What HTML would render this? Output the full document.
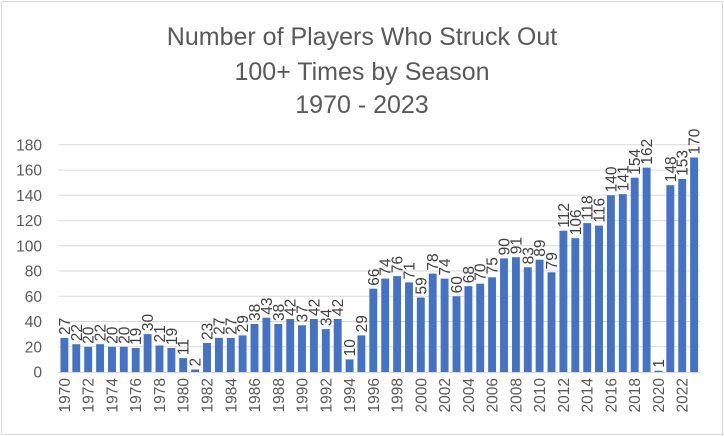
<!DOCTYPE html>
<html><head><meta charset="utf-8"><style>
html,body{margin:0;padding:0;background:#fff}
svg{display:block}
text{font-family:"Liberation Sans",sans-serif;fill:#404040}
.v{font-size:15.5px}
.y{font-size:15.5px;fill:#595959}
.t{font-size:25px;fill:#595959}
rect.b{fill:#4472C4}
</style></head><body>
<svg width="724" height="436" viewBox="0 0 724 436">
<rect x="1.5" y="1.5" width="721" height="433" fill="#fff" stroke="#d9d9d9"/>
<text class="t" x="362" y="45" text-anchor="middle">Number of Players Who Struck Out</text>
<text class="t" x="362" y="80" text-anchor="middle">100+ Times by Season</text>
<text class="t" x="362" y="113" text-anchor="middle">1970 - 2023</text>
<g stroke="#d9d9d9" stroke-width="1">
<line x1="58.5" x2="700" y1="346.8" y2="346.8"/><line x1="58.5" x2="700" y1="321.5" y2="321.5"/>
<line x1="58.5" x2="700" y1="296.3" y2="296.3"/><line x1="58.5" x2="700" y1="271" y2="271"/>
<line x1="58.5" x2="700" y1="245.8" y2="245.8"/><line x1="58.5" x2="700" y1="220.6" y2="220.6"/>
<line x1="58.5" x2="700" y1="195.3" y2="195.3"/><line x1="58.5" x2="700" y1="170.1" y2="170.1"/>
<line x1="58.5" x2="700" y1="144.8" y2="144.8"/>
</g>
<g text-anchor="end">
<text class="y" x="42" y="377.5">0</text><text class="y" x="42" y="352.3">20</text><text class="y" x="42" y="327">40</text>
<text class="y" x="42" y="301.8">60</text><text class="y" x="42" y="276.5">80</text><text class="y" x="42" y="251.3">100</text>
<text class="y" x="42" y="226.1">120</text><text class="y" x="42" y="200.8">140</text><text class="y" x="42" y="175.6">160</text>
<text class="y" x="42" y="150.3">180</text>
</g>
<g>
<g transform="translate(64.4,372)"><rect class="b" x="-3.95" y="-34.1" width="7.9" height="34.1"/><text class="v" transform="rotate(-90)" x="37" y="5.5">27</text><text class="y" transform="rotate(-90)" x="-6" y="5.5" text-anchor="end">1970</text></g>
<g transform="translate(76.3,372)"><rect class="b" x="-3.95" y="-27.8" width="7.9" height="27.8"/><text class="v" transform="rotate(-90)" x="30.8" y="5.5">22</text></g>
<g transform="translate(88.2,372)"><rect class="b" x="-3.95" y="-25.2" width="7.9" height="25.2"/><text class="v" transform="rotate(-90)" x="28.2" y="5.5">20</text><text class="y" transform="rotate(-90)" x="-6" y="5.5" text-anchor="end">1972</text></g>
<g transform="translate(100.1,372)"><rect class="b" x="-3.95" y="-27.8" width="7.9" height="27.8"/><text class="v" transform="rotate(-90)" x="30.8" y="5.5">22</text></g>
<g transform="translate(112,372)"><rect class="b" x="-3.95" y="-25.2" width="7.9" height="25.2"/><text class="v" transform="rotate(-90)" x="28.2" y="5.5">20</text><text class="y" transform="rotate(-90)" x="-6" y="5.5" text-anchor="end">1974</text></g>
<g transform="translate(123.8,372)"><rect class="b" x="-3.95" y="-25.2" width="7.9" height="25.2"/><text class="v" transform="rotate(-90)" x="28.2" y="5.5">20</text></g>
<g transform="translate(135.7,372)"><rect class="b" x="-3.95" y="-24" width="7.9" height="24"/><text class="v" transform="rotate(-90)" x="27" y="5.5">19</text><text class="y" transform="rotate(-90)" x="-6" y="5.5" text-anchor="end">1976</text></g>
<g transform="translate(147.6,372)"><rect class="b" x="-3.95" y="-37.9" width="7.9" height="37.9"/><text class="v" transform="rotate(-90)" x="40.9" y="5.5">30</text></g>
<g transform="translate(159.5,372)"><rect class="b" x="-3.95" y="-26.5" width="7.9" height="26.5"/><text class="v" transform="rotate(-90)" x="29.5" y="5.5">21</text><text class="y" transform="rotate(-90)" x="-6" y="5.5" text-anchor="end">1978</text></g>
<g transform="translate(171.4,372)"><rect class="b" x="-3.95" y="-24" width="7.9" height="24"/><text class="v" transform="rotate(-90)" x="27" y="5.5">19</text></g>
<g transform="translate(183.2,372)"><rect class="b" x="-3.95" y="-13.9" width="7.9" height="13.9"/><text class="v" transform="rotate(-90)" x="16.9" y="5.5">11</text><text class="y" transform="rotate(-90)" x="-6" y="5.5" text-anchor="end">1980</text></g>
<g transform="translate(195.1,372)"><rect class="b" x="-3.95" y="-2.5" width="7.9" height="2.5"/><text class="v" transform="rotate(-90)" x="5.5" y="5.5">2</text></g>
<g transform="translate(207,372)"><rect class="b" x="-3.95" y="-29" width="7.9" height="29"/><text class="v" transform="rotate(-90)" x="32" y="5.5">23</text><text class="y" transform="rotate(-90)" x="-6" y="5.5" text-anchor="end">1982</text></g>
<g transform="translate(218.9,372)"><rect class="b" x="-3.95" y="-34.1" width="7.9" height="34.1"/><text class="v" transform="rotate(-90)" x="37.1" y="5.5">27</text></g>
<g transform="translate(230.8,372)"><rect class="b" x="-3.95" y="-34.1" width="7.9" height="34.1"/><text class="v" transform="rotate(-90)" x="37.1" y="5.5">27</text><text class="y" transform="rotate(-90)" x="-6" y="5.5" text-anchor="end">1984</text></g>
<g transform="translate(242.6,372)"><rect class="b" x="-3.95" y="-36.6" width="7.9" height="36.6"/><text class="v" transform="rotate(-90)" x="39.6" y="5.5">29</text></g>
<g transform="translate(254.5,372)"><rect class="b" x="-3.95" y="-48" width="7.9" height="48"/><text class="v" transform="rotate(-90)" x="51" y="5.5">38</text><text class="y" transform="rotate(-90)" x="-6" y="5.5" text-anchor="end">1986</text></g>
<g transform="translate(266.4,372)"><rect class="b" x="-3.95" y="-54.3" width="7.9" height="54.3"/><text class="v" transform="rotate(-90)" x="57.3" y="5.5">43</text></g>
<g transform="translate(278.3,372)"><rect class="b" x="-3.95" y="-48" width="7.9" height="48"/><text class="v" transform="rotate(-90)" x="51" y="5.5">38</text><text class="y" transform="rotate(-90)" x="-6" y="5.5" text-anchor="end">1988</text></g>
<g transform="translate(290.2,372)"><rect class="b" x="-3.95" y="-53" width="7.9" height="53"/><text class="v" transform="rotate(-90)" x="56" y="5.5">42</text></g>
<g transform="translate(302,372)"><rect class="b" x="-3.95" y="-46.7" width="7.9" height="46.7"/><text class="v" transform="rotate(-90)" x="49.7" y="5.5">37</text><text class="y" transform="rotate(-90)" x="-6" y="5.5" text-anchor="end">1990</text></g>
<g transform="translate(313.9,372)"><rect class="b" x="-3.95" y="-53" width="7.9" height="53"/><text class="v" transform="rotate(-90)" x="56" y="5.5">42</text></g>
<g transform="translate(325.8,372)"><rect class="b" x="-3.95" y="-42.9" width="7.9" height="42.9"/><text class="v" transform="rotate(-90)" x="45.9" y="5.5">34</text><text class="y" transform="rotate(-90)" x="-6" y="5.5" text-anchor="end">1992</text></g>
<g transform="translate(337.7,372)"><rect class="b" x="-3.95" y="-53" width="7.9" height="53"/><text class="v" transform="rotate(-90)" x="56" y="5.5">42</text></g>
<g transform="translate(349.6,372)"><rect class="b" x="-3.95" y="-12.6" width="7.9" height="12.6"/><text class="v" transform="rotate(-90)" x="15.6" y="5.5">10</text><text class="y" transform="rotate(-90)" x="-6" y="5.5" text-anchor="end">1994</text></g>
<g transform="translate(361.4,372)"><rect class="b" x="-3.95" y="-36.6" width="7.9" height="36.6"/><text class="v" transform="rotate(-90)" x="39.6" y="5.5">29</text></g>
<g transform="translate(373.3,372)"><rect class="b" x="-3.95" y="-83.3" width="7.9" height="83.3"/><text class="v" transform="rotate(-90)" x="86.3" y="5.5">66</text><text class="y" transform="rotate(-90)" x="-6" y="5.5" text-anchor="end">1996</text></g>
<g transform="translate(385.2,372)"><rect class="b" x="-3.95" y="-93.4" width="7.9" height="93.4"/><text class="v" transform="rotate(-90)" x="96.4" y="5.5">74</text></g>
<g transform="translate(397.1,372)"><rect class="b" x="-3.95" y="-95.9" width="7.9" height="95.9"/><text class="v" transform="rotate(-90)" x="98.9" y="5.5">76</text><text class="y" transform="rotate(-90)" x="-6" y="5.5" text-anchor="end">1998</text></g>
<g transform="translate(409,372)"><rect class="b" x="-3.95" y="-89.6" width="7.9" height="89.6"/><text class="v" transform="rotate(-90)" x="92.6" y="5.5">71</text></g>
<g transform="translate(420.8,372)"><rect class="b" x="-3.95" y="-74.5" width="7.9" height="74.5"/><text class="v" transform="rotate(-90)" x="77.5" y="5.5">59</text><text class="y" transform="rotate(-90)" x="-6" y="5.5" text-anchor="end">2000</text></g>
<g transform="translate(432.7,372)"><rect class="b" x="-3.95" y="-98.4" width="7.9" height="98.4"/><text class="v" transform="rotate(-90)" x="101.4" y="5.5">78</text></g>
<g transform="translate(444.6,372)"><rect class="b" x="-3.95" y="-93.4" width="7.9" height="93.4"/><text class="v" transform="rotate(-90)" x="96.4" y="5.5">74</text><text class="y" transform="rotate(-90)" x="-6" y="5.5" text-anchor="end">2002</text></g>
<g transform="translate(456.5,372)"><rect class="b" x="-3.95" y="-75.7" width="7.9" height="75.7"/><text class="v" transform="rotate(-90)" x="78.7" y="5.5">60</text></g>
<g transform="translate(468.4,372)"><rect class="b" x="-3.95" y="-85.8" width="7.9" height="85.8"/><text class="v" transform="rotate(-90)" x="88.8" y="5.5">68</text><text class="y" transform="rotate(-90)" x="-6" y="5.5" text-anchor="end">2004</text></g>
<g transform="translate(480.2,372)"><rect class="b" x="-3.95" y="-88.3" width="7.9" height="88.3"/><text class="v" transform="rotate(-90)" x="91.3" y="5.5">70</text></g>
<g transform="translate(492.1,372)"><rect class="b" x="-3.95" y="-94.7" width="7.9" height="94.7"/><text class="v" transform="rotate(-90)" x="97.7" y="5.5">75</text><text class="y" transform="rotate(-90)" x="-6" y="5.5" text-anchor="end">2006</text></g>
<g transform="translate(504,372)"><rect class="b" x="-3.95" y="-113.6" width="7.9" height="113.6"/><text class="v" transform="rotate(-90)" x="116.6" y="5.5">90</text></g>
<g transform="translate(515.9,372)"><rect class="b" x="-3.95" y="-114.8" width="7.9" height="114.8"/><text class="v" transform="rotate(-90)" x="117.8" y="5.5">91</text><text class="y" transform="rotate(-90)" x="-6" y="5.5" text-anchor="end">2008</text></g>
<g transform="translate(527.8,372)"><rect class="b" x="-3.95" y="-104.7" width="7.9" height="104.7"/><text class="v" transform="rotate(-90)" x="107.7" y="5.5">83</text></g>
<g transform="translate(539.6,372)"><rect class="b" x="-3.95" y="-112.3" width="7.9" height="112.3"/><text class="v" transform="rotate(-90)" x="115.3" y="5.5">89</text><text class="y" transform="rotate(-90)" x="-6" y="5.5" text-anchor="end">2010</text></g>
<g transform="translate(551.5,372)"><rect class="b" x="-3.95" y="-99.7" width="7.9" height="99.7"/><text class="v" transform="rotate(-90)" x="102.7" y="5.5">79</text></g>
<g transform="translate(563.4,372)"><rect class="b" x="-3.95" y="-141.3" width="7.9" height="141.3"/><text class="v" transform="rotate(-90)" x="144.3" y="5.5">112</text><text class="y" transform="rotate(-90)" x="-6" y="5.5" text-anchor="end">2012</text></g>
<g transform="translate(575.3,372)"><rect class="b" x="-3.95" y="-133.8" width="7.9" height="133.8"/><text class="v" transform="rotate(-90)" x="136.8" y="5.5">106</text></g>
<g transform="translate(587.2,372)"><rect class="b" x="-3.95" y="-148.9" width="7.9" height="148.9"/><text class="v" transform="rotate(-90)" x="151.9" y="5.5">118</text><text class="y" transform="rotate(-90)" x="-6" y="5.5" text-anchor="end">2014</text></g>
<g transform="translate(599,372)"><rect class="b" x="-3.95" y="-146.4" width="7.9" height="146.4"/><text class="v" transform="rotate(-90)" x="149.4" y="5.5">116</text></g>
<g transform="translate(610.9,372)"><rect class="b" x="-3.95" y="-176.7" width="7.9" height="176.7"/><text class="v" transform="rotate(-90)" x="179.7" y="5.5">140</text><text class="y" transform="rotate(-90)" x="-6" y="5.5" text-anchor="end">2016</text></g>
<g transform="translate(622.8,372)"><rect class="b" x="-3.95" y="-177.9" width="7.9" height="177.9"/><text class="v" transform="rotate(-90)" x="180.9" y="5.5">141</text></g>
<g transform="translate(634.7,372)"><rect class="b" x="-3.95" y="-194.3" width="7.9" height="194.3"/><text class="v" transform="rotate(-90)" x="197.3" y="5.5">154</text><text class="y" transform="rotate(-90)" x="-6" y="5.5" text-anchor="end">2018</text></g>
<g transform="translate(646.6,372)"><rect class="b" x="-3.95" y="-204.4" width="7.9" height="204.4"/><text class="v" transform="rotate(-90)" x="207.4" y="5.5">162</text></g>
<g transform="translate(658.4,372)"><rect class="b" x="-3.95" y="-1.3" width="7.9" height="1.3"/><text class="v" transform="rotate(-90)" x="4.3" y="5.5">1</text><text class="y" transform="rotate(-90)" x="-6" y="5.5" text-anchor="end">2020</text></g>
<g transform="translate(670.3,372)"><rect class="b" x="-3.95" y="-186.8" width="7.9" height="186.8"/><text class="v" transform="rotate(-90)" x="189.8" y="5.5">148</text></g>
<g transform="translate(682.2,372)"><rect class="b" x="-3.95" y="-193.1" width="7.9" height="193.1"/><text class="v" transform="rotate(-90)" x="196.1" y="5.5">153</text><text class="y" transform="rotate(-90)" x="-6" y="5.5" text-anchor="end">2022</text></g>
<g transform="translate(694.1,372)"><rect class="b" x="-3.95" y="-214.5" width="7.9" height="214.5"/><text class="v" transform="rotate(-90)" x="217.5" y="5.5">170</text></g>
</g>
<line x1="58.5" x2="700" y1="372.5" y2="372.5" stroke="#d9d9d9" stroke-width="1"/>
</svg>
</body></html>
